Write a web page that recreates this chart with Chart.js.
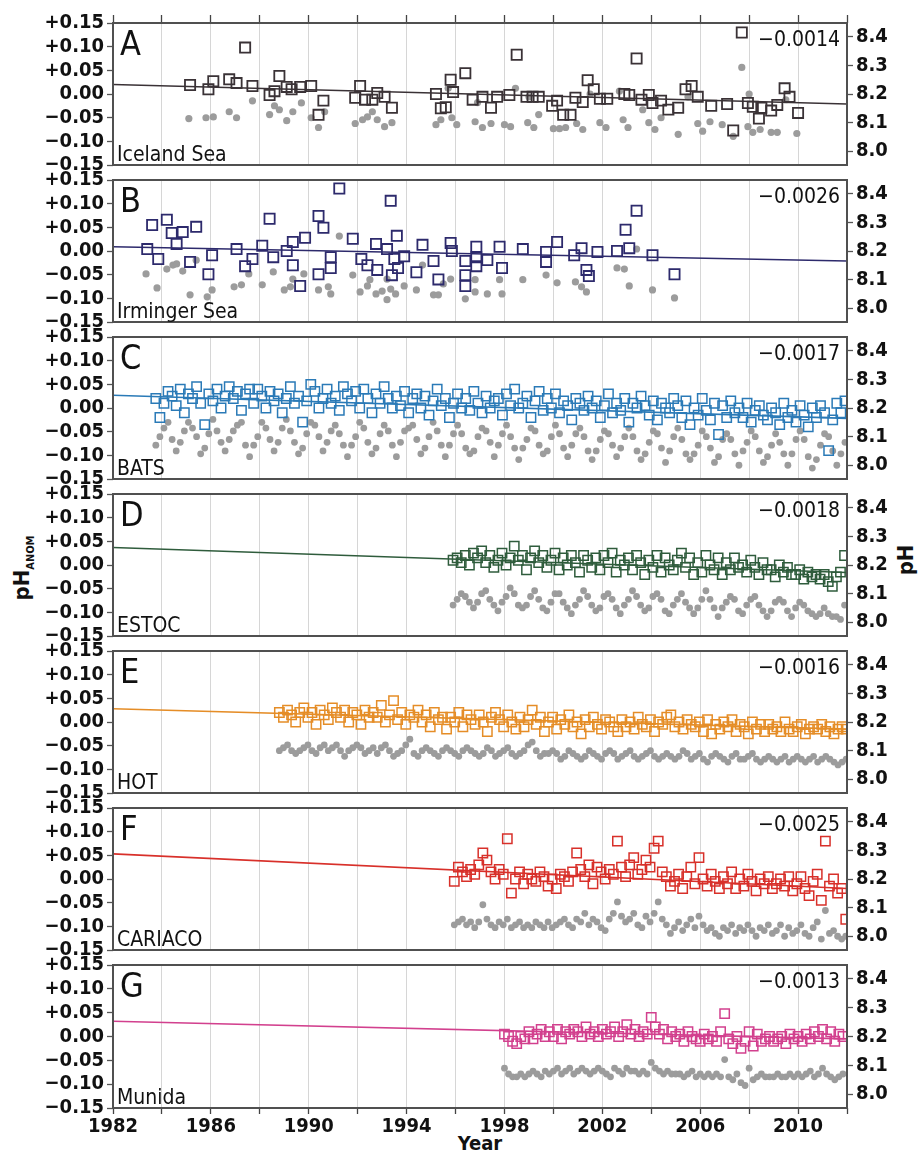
<!DOCTYPE html>
<html><head><meta charset="utf-8">
<script src="https://cdn.jsdelivr.net/npm/chart.js@4.4.1/dist/chart.umd.min.js"></script>
<style>
html,body{margin:0;padding:0;background:#fff;}
#wrap{position:relative;width:921px;height:1157px;overflow:hidden;background:#fff;font-family:'DejaVu Sans Condensed','DejaVu Sans',sans-serif;color:#111;}
.pan{position:absolute;left:0;}
.lbl{position:absolute;white-space:nowrap;}
</style></head><body>
<div id="wrap">
<div class="lbl" style="left:21px;top:568px;transform:translate(-50%,-50%) rotate(-90deg);font-size:22px;font-weight:bold;">pH<span style="font-size:11px;position:relative;top:5px;">ANOM</span></div>
<div class="lbl" style="left:905px;top:560px;transform:translate(-50%,-50%) rotate(-90deg);font-size:22px;font-weight:bold;">pH</div>
<div class="lbl" style="left:480px;top:1143px;transform:translate(-50%,-50%);font-size:20px;font-weight:bold;">Year</div>
</div>
<script>
// ---------- axes / ticks ----------
const X_MIN = 1982, X_MAX = 2012;
const GRID_YEARS = [1982,1984,1986,1988,1990,1992,1994,1996,1998,2000,2002,2004,2006,2008,2010,2012];
const YEAR_LABELS = ['1982','1986','1990','1994','1998','2002','2006','2010'];
const LEFT_TICKS = [-0.15,-0.10,-0.05,0,0.05,0.10,0.15];
const LEFT_TICK_LABELS = ['\u22120.15','\u22120.10','\u22120.05','0.00','+0.05','+0.10','+0.15'];
const RIGHT_TICKS = [8.0,8.1,8.2,8.3,8.4];
const RIGHT_TICK_LABELS = ['8.0','8.1','8.2','8.3','8.4'];
const RIGHT_MIN = 7.952, RIGHT_MAX = 8.448;

const LETTERS = ['A','B','C','D','E','F','G'];
const SITES = ['Iceland Sea','Irminger Sea','BATS','ESTOC','HOT','CARIACO','Munida'];
const SLOPES = ['\u22120.0014','\u22120.0026','\u22120.0017','\u22120.0018','\u22120.0016','\u22120.0025','\u22120.0013'];
const COLORS = ['#3a3236','#2d2a6c','#2a7ab7','#2f5c3c','#e58d27','#d8302a','#d2408e'];

const TREND_YEARS = [1982, 2012];
const trendIceland = [0.020, -0.021];
const trendIrminger = [0.009, -0.021];
const trendBATS = [0.027, -0.022];
const trendESTOC = [0.037, -0.016];
const trendHOT = [0.028, -0.015];
const trendCARIACO = [0.053, -0.020];
const trendMunida = [0.032, -0.005];

// ---------- Iceland Sea (year, anomaly) / (year, pH) ----------
const icelandAnom = [[1985.15,0.019],[1985.9,0.01],[1986.1,0.027],[1986.75,0.031],[1987.05,0.023],[1987.4,0.098],[1987.7,0.017],[1988.4,-0.002],[1988.6,0.006],[1988.8,0.038],[1989.1,0.015],[1989.3,0.01],[1989.65,0.015],[1990.1,0.017],[1990.4,-0.044],[1990.6,-0.014],[1991.9,-0.008],[1992.1,0.017],[1992.3,-0.012],[1992.6,-0.012],[1992.8,0.002],[1993.1,-0.006],[1993.4,-0.029],[1995.2,0.0],[1995.4,-0.03],[1995.6,-0.028],[1995.8,0.03],[1995.9,0.004],[1996.4,0.044],[1996.7,-0.012],[1997.1,-0.006],[1997.45,-0.029],[1997.7,-0.006],[1998.2,-0.002],[1998.5,0.083],[1998.9,-0.006],[1999.15,-0.006],[1999.4,-0.006],[1999.95,-0.025],[2000.15,-0.014],[2000.4,-0.044],[2000.7,-0.044],[2000.9,-0.008],[2001.2,-0.017],[2001.4,0.029],[2001.65,0.01],[2001.9,-0.01],[2002.2,-0.01],[2002.9,0.0],[2003.1,-0.002],[2003.4,0.075],[2003.6,-0.012],[2003.9,-0.002],[2004.05,-0.019],[2004.4,-0.014],[2004.7,-0.033],[2005.1,-0.029],[2005.4,0.01],[2005.65,0.017],[2005.9,-0.006],[2006.45,-0.025],[2007.1,-0.021],[2007.35,-0.077],[2007.7,0.13],[2007.95,-0.019],[2008.15,-0.027],[2008.4,-0.052],[2008.5,-0.029],[2008.9,-0.035],[2009.15,-0.023],[2009.45,0.012],[2009.65,-0.006],[2010.0,-0.04]];
const icelandPH = [[1985.1,8.114],[1985.8,8.117],[1986.1,8.12],[1986.75,8.138],[1987.05,8.117],[1987.7,8.176],[1988.4,8.128],[1988.6,8.159],[1988.8,8.145],[1989.1,8.107],[1989.35,8.138],[1989.7,8.169],[1990.1,8.117],[1990.4,8.083],[1990.65,8.138],[1991.9,8.097],[1992.2,8.11],[1992.4,8.12],[1992.6,8.138],[1992.8,8.11],[1993.1,8.086],[1993.4,8.1],[1995.2,8.093],[1995.4,8.11],[1995.7,8.22],[1995.85,8.117],[1996.05,8.093],[1996.8,8.103],[1996.9,8.17],[1997.1,8.083],[1997.45,8.097],[1998.0,8.093],[1998.25,8.086],[1998.45,8.22],[1998.95,8.1],[1999.0,8.19],[1999.2,8.083],[1999.4,8.128],[2000.0,8.079],[2000.25,8.079],[2000.5,8.083],[2000.95,8.097],[2001.2,8.076],[2001.5,8.2],[2001.9,8.1],[2002.15,8.083],[2002.7,8.21],[2002.85,8.11],[2003.05,8.083],[2003.65,8.145],[2003.9,8.1],[2004.15,8.076],[2004.4,8.117],[2005.1,8.059],[2005.5,8.19],[2005.9,8.097],[2006.1,8.07],[2006.4,8.103],[2006.9,8.093],[2007.35,8.052],[2007.7,8.293],[2007.95,8.086],[2008.0,8.2],[2008.15,8.066],[2008.45,8.076],[2008.9,8.066],[2009.15,8.066],[2009.5,8.18],[2009.95,8.062]];

// ---------- Irminger Sea ----------
const irmingerAnom = [[1983.4,0.004],[1983.6,0.055],[1983.85,-0.017],[1984.2,0.066],[1984.4,0.038],[1984.6,0.015],[1984.85,0.04],[1985.15,-0.023],[1985.4,0.051],[1985.9,-0.049],[1986.05,-0.009],[1987.05,0.004],[1987.4,-0.032],[1987.7,-0.017],[1988.1,0.011],[1988.4,0.068],[1988.55,-0.013],[1989.1,0.0],[1989.35,0.019],[1989.35,-0.03],[1989.65,-0.074],[1989.85,0.028],[1990.4,0.074],[1990.6,0.049],[1990.4,-0.049],[1990.9,-0.013],[1990.9,-0.036],[1991.25,0.132],[1991.8,0.026],[1992.15,-0.017],[1992.4,-0.03],[1992.75,0.015],[1992.8,-0.04],[1993.2,0.004],[1993.35,0.106],[1993.4,-0.051],[1993.5,-0.017],[1993.6,0.032],[1993.65,-0.036],[1993.9,-0.011],[1994.4,-0.045],[1994.65,0.013],[1995.1,-0.021],[1995.3,-0.06],[1995.8,0.017],[1995.85,0.0],[1996.4,-0.021],[1996.4,-0.051],[1996.4,-0.074],[1996.85,0.009],[1996.85,-0.013],[1996.85,-0.032],[1997.3,-0.019],[1997.8,0.009],[1997.9,-0.036],[1998.75,0.004],[1999.7,-0.002],[1999.7,-0.023],[2000.15,0.019],[2000.85,-0.009],[2001.15,0.006],[2001.35,-0.04],[2001.45,-0.053],[2001.8,-0.002],[2002.6,0.0],[2002.95,0.045],[2003.1,0.006],[2003.4,0.085],[2004.05,-0.009],[2004.95,-0.049]];
const irmingerPH = [[1983.35,8.12],[1983.8,8.071],[1984.2,8.137],[1984.45,8.151],[1984.6,8.155],[1984.85,8.13],[1985.15,8.047],[1985.4,8.168],[1985.85,8.04],[1986.05,8.064],[1986.95,8.075],[1987.25,8.082],[1987.55,8.12],[1988.1,8.082],[1988.55,8.127],[1989.0,8.064],[1989.25,8.075],[1989.35,8.102],[1989.8,8.12],[1990.4,8.064],[1990.8,8.075],[1990.9,8.05],[1991.25,8.252],[1991.8,8.116],[1992.1,8.057],[1992.4,8.078],[1992.5,8.1],[1992.75,8.05],[1993.0,8.06],[1993.2,8.03],[1993.2,8.102],[1993.35,8.067],[1993.55,8.05],[1993.9,8.078],[1994.4,8.064],[1994.65,8.151],[1995.1,8.047],[1995.3,8.047],[1995.5,8.085],[1995.8,8.102],[1996.4,8.033],[1996.8,8.1],[1996.8,8.057],[1997.3,8.05],[1997.8,8.1],[1997.9,8.05],[1998.75,8.1],[1999.7,8.116],[2000.15,8.089],[2000.9,8.092],[2001.15,8.075],[2001.35,8.057],[2002.6,8.141],[2002.9,8.137],[2003.1,8.078],[2003.4,8.207],[2004.05,8.064],[2004.95,8.036]];

// ---------- dense series: first sample year, sampling step (yr), values ----------
const batsStart = 1983.75, batsStep = 1/6;
const batsAnom = [
0.02,-0.02,0.01,0.035,0.025,0.005, 0.04,-0.01,0.03,0.02,0.045,0.01, -0.035,0.03,0.015,0.04,0.0,0.025,
0.045,0.02,0.035,-0.005,0.03,0.04, 0.01,0.04,0.025,0.0,0.035,0.015, 0.03,-0.01,0.02,0.045,0.01,0.025,
-0.03,0.015,0.05,0.035,0.0,0.02, 0.04,0.01,0.025,-0.005,0.045,0.03, 0.015,0.035,0.0,0.04,0.02,-0.01,
0.03,0.01,0.045,0.02,0.0,0.025, 0.005,0.035,-0.01,0.02,0.03,0.0, 0.025,-0.015,0.015,0.04,0.005,0.02,
-0.02,0.01,0.03,0.0,0.02,-0.005, 0.035,0.01,-0.01,0.025,0.0,0.015, 0.02,-0.015,0.03,0.005,0.04,0.0,
0.01,0.025,-0.02,0.015,0.035,-0.005, 0.02,0.0,0.03,-0.01,0.015,0.005, -0.025,0.02,0.01,-0.005,0.025,0.0,
0.015,-0.02,0.005,0.03,-0.01,0.01, -0.005,0.02,-0.03,0.01,0.0,0.025, 0.005,-0.015,0.015,-0.025,0.01,0.0,
-0.01,0.02,0.005,-0.02,0.015,-0.035, 0.0,-0.015,0.02,-0.005,-0.025,0.01, -0.056,0.005,-0.02,0.015,-0.01,0.0,
-0.02,0.01,-0.03,-0.005,0.005,-0.015, -0.025,0.0,-0.01,-0.035,0.01,-0.02, -0.005,-0.03,0.005,-0.015,-0.04,0.0,
-0.02,0.005,-0.01,-0.09,-0.025,0.01, -0.01,0.015];
const batsPH = [
8.07,8.10,8.13,8.15,8.09,8.05, 8.08,8.12,8.15,8.13,8.10,8.04, 8.06,8.11,8.16,8.12,8.08,8.05,
8.09,8.12,8.14,8.15,8.07,8.03, 8.07,8.10,8.15,8.13,8.09,8.05, 8.08,8.13,8.16,8.12,8.08,8.04,
8.06,8.11,8.15,8.14,8.10,8.05, 8.08,8.12,8.14,8.11,8.07,8.03, 8.07,8.10,8.15,8.13,8.08,8.04,
8.06,8.11,8.14,8.12,8.07,8.03, 8.08,8.12,8.13,8.14,8.09,8.04, 8.06,8.10,8.15,8.12,8.07,8.03,
8.07,8.11,8.14,8.11,8.06,8.04, 8.05,8.10,8.13,8.12,8.08,8.03, 8.07,8.11,8.14,8.10,8.06,8.02,
8.06,8.09,8.13,8.12,8.07,8.04, 8.05,8.10,8.14,8.11,8.06,8.03, 8.07,8.11,8.13,8.10,8.05,8.02,
8.05,8.09,8.12,8.11,8.07,8.03, 8.06,8.10,8.13,8.10,8.05,8.02, 8.04,8.08,8.12,8.11,8.06,8.01,
8.05,8.10,8.13,8.09,8.04,8.02, 8.04,8.07,8.12,8.10,8.06,8.01, 8.03,8.09,8.11,8.09,8.04,8.00,
8.05,8.08,8.12,8.10,8.05,8.01, 8.03,8.07,8.11,8.08,8.04,8.00, 8.04,8.09,8.12,8.09,8.03,7.99,
8.02,8.07,8.11,8.10,8.05,8.00, 8.04,8.08];

const estocStart = 1995.9, estocStep = 1/6;
const estocAnom = [
0.01,0.015,0.005,0.02,0.0,0.025, 0.015,0.03,0.005,0.02,-0.005,0.01, 0.025,0.0,0.015,0.04,0.01,0.02,
-0.01,0.015,0.03,0.005,0.02,-0.005, 0.01,0.025,-0.01,0.015,0.0,0.02, 0.005,-0.015,0.02,0.01,-0.005,0.015,
-0.01,0.02,0.005,0.025,-0.015,0.01, 0.0,0.015,-0.01,0.02,0.005,-0.02, 0.01,-0.005,0.02,-0.015,0.015,0.0,
-0.01,0.01,0.025,-0.005,0.015,-0.02, 0.005,-0.015,0.02,0.0,-0.01,0.015, -0.02,0.005,-0.01,0.015,-0.005,0.0,
-0.015,0.01,-0.005,-0.02,0.005,-0.01, -0.01,-0.025,0.0,-0.015,-0.005,-0.02, -0.02,-0.01,-0.03,-0.015,-0.025,-0.02,
-0.03,-0.02,-0.035,-0.045,-0.025,-0.015, 0.02];
const estocPH = [
8.06,8.08,8.10,8.09,8.07,8.05, 8.07,8.10,8.11,8.08,8.06,8.04, 8.07,8.09,8.12,8.10,8.06,8.05,
8.06,8.09,8.11,8.08,8.05,8.04, 8.07,8.10,8.10,8.07,8.05,8.03, 8.06,8.08,8.11,8.09,8.06,8.04,
8.05,8.09,8.10,8.08,8.05,8.03, 8.06,8.08,8.11,8.09,8.06,8.04, 8.05,8.09,8.10,8.08,8.04,8.03,
8.06,8.08,8.10,8.07,8.05,8.03, 8.05,8.08,8.11,8.08,8.05,8.02, 8.05,8.07,8.09,8.08,8.04,8.03,
8.06,8.08,8.09,8.06,8.04,8.02, 8.04,8.07,8.08,8.07,8.04,8.02, 8.05,8.07,8.06,8.04,8.03,8.02,
8.03,8.05,8.03,8.02,8.02,8.01, 8.06];

const hotStart = 1988.8, hotStep = 1/6;
const hotAnom = [
0.02,0.01,0.025,0.015,0.0,0.02, 0.03,0.01,0.02,-0.005,0.025,0.015, 0.005,0.03,0.02,0.01,0.025,0.0,
0.02,0.015,-0.005,0.025,0.01,0.02, 0.01,0.035,0.0,0.015,0.045,0.005, 0.02,-0.005,0.015,0.01,0.025,0.0,
0.015,-0.01,0.02,0.005,0.01,-0.015, 0.01,0.0,0.02,-0.01,0.015,0.005, -0.005,0.015,0.0,-0.02,0.01,0.02,
0.005,-0.01,0.015,0.0,-0.015,0.01, -0.01,0.005,0.025,-0.005,0.01,-0.02, 0.0,0.01,-0.015,0.005,-0.005,0.015,
-0.01,0.0,-0.025,0.005,-0.01,0.01, -0.005,-0.015,0.005,0.0,-0.01,-0.02, 0.005,-0.01,0.0,-0.015,0.01,-0.005,
-0.01,0.005,-0.02,0.0,-0.005,0.01, 0.015,-0.01,0.0,-0.015,0.005,-0.005, -0.01,0.0,-0.02,0.005,-0.025,-0.005,
-0.015,0.0,-0.01,0.005,-0.02,-0.005, -0.01,-0.025,0.0,-0.015,-0.005,-0.02, -0.005,-0.015,-0.01,-0.02,0.0,-0.015,
-0.02,-0.01,-0.005,-0.025,-0.015,-0.01, -0.015,-0.005,-0.02,-0.01,-0.025,-0.015, -0.01,-0.015];
const hotPH = [
8.10,8.11,8.12,8.10,8.09,8.10, 8.11,8.12,8.10,8.09,8.11,8.12, 8.10,8.11,8.12,8.10,8.08,8.10,
8.11,8.12,8.11,8.09,8.10,8.11, 8.09,8.11,8.12,8.10,8.08,8.09, 8.10,8.12,8.14,8.09,8.08,8.10,
8.11,8.10,8.09,8.08,8.10,8.11, 8.10,8.09,8.08,8.10,8.11,8.10, 8.09,8.08,8.09,8.11,8.10,8.08,
8.09,8.10,8.11,8.09,8.08,8.09, 8.10,8.12,8.13,8.10,8.08,8.09, 8.09,8.10,8.09,8.07,8.08,8.10,
8.09,8.08,8.07,8.08,8.10,8.09, 8.08,8.07,8.09,8.10,8.09,8.07, 8.08,8.09,8.10,8.08,8.07,8.08,
8.09,8.10,8.08,8.07,8.08,8.09, 8.08,8.07,8.08,8.10,8.09,8.07, 8.08,8.09,8.07,8.06,8.08,8.09,
8.08,8.07,8.06,8.08,8.09,8.07, 8.07,8.08,8.09,8.07,8.06,8.07, 8.08,8.07,8.06,8.07,8.08,8.06,
8.07,8.08,8.07,8.06,8.07,8.08, 8.06,8.07,8.08,8.07,8.06,8.05, 8.06,8.07];

const cariacoStart = 1995.95, cariacoStep = 1/6;
const cariacoAnom = [
-0.005,0.025,0.015,0.005,0.02,0.01, 0.03,0.055,0.04,0.015,0.0,0.02, 0.01,0.085,-0.03,0.0,0.015,-0.01,
0.01,0.0,-0.005,0.015,0.005,-0.015, 0.0,-0.02,0.01,0.005,-0.005,0.015, 0.055,0.02,0.005,0.03,-0.01,0.025,
0.015,0.0,0.02,0.01,0.08,0.025, 0.005,0.03,0.045,0.01,0.02,0.04, 0.025,0.065,0.08,0.015,0.005,-0.015,
-0.005,0.01,-0.02,0.005,0.025,-0.01, 0.045,0.0,-0.015,0.01,-0.005,-0.02, 0.005,-0.01,0.015,-0.02,0.0,-0.015,
0.01,-0.005,-0.025,0.0,-0.01,0.005, -0.02,-0.01,0.0,-0.015,0.005,-0.025, -0.01,0.005,-0.02,-0.035,-0.005,0.01,
-0.045,0.08,-0.015,0.0,-0.03,-0.02, -0.085];
const cariacoPH = [
8.04,8.05,8.06,8.04,8.05,8.03, 8.05,8.11,8.06,8.04,8.03,8.05, 8.04,8.06,8.03,8.04,8.05,8.03,
8.04,8.03,8.05,8.04,8.03,8.05, 8.03,8.04,8.05,8.06,8.04,8.03, 8.06,8.05,8.08,8.04,8.06,8.05,
8.03,8.02,8.06,8.08,8.12,8.07, 8.05,8.06,8.08,8.04,8.03,8.07, 8.05,8.08,8.12,8.06,8.04,8.01,
8.03,8.05,8.02,8.04,8.06,8.03, 8.07,8.04,8.02,8.03,8.01,8.00, 8.03,8.02,8.04,8.01,8.03,8.02,
8.04,8.02,8.00,8.03,8.02,8.04, 8.01,8.02,8.04,8.00,8.03,8.01, 8.02,8.04,8.01,8.00,8.03,8.05,
7.99,8.09,8.01,8.02,8.00,7.99, 8.00];

const munidaStart = 1998.0, munidaStep = 1/6;
const munidaAnom = [
0.005,0.0,-0.01,-0.015,0.0,-0.005, 0.01,-0.005,0.005,0.015,0.0,0.01, 0.0,0.015,-0.005,0.01,0.005,0.015,
0.01,0.0,0.02,0.005,0.01,0.0, 0.015,0.005,0.01,0.02,0.0,0.01, 0.025,0.005,0.015,0.0,0.01,0.005,
0.04,0.02,0.005,0.015,-0.005,0.01, 0.0,0.005,-0.01,0.01,0.0,-0.005, -0.01,0.005,-0.005,0.0,-0.01,0.01,
0.048,-0.005,-0.015,0.0,-0.025,-0.01, 0.01,-0.02,0.005,-0.01,-0.005,0.0, -0.01,-0.005,0.0,-0.015,0.005,-0.005,
0.0,-0.01,0.005,-0.005,0.01,0.0, 0.015,-0.005,0.01,-0.01,0.005,0.0];
const munidaPH = [
8.09,8.07,8.06,8.06,8.07,8.06, 8.07,8.08,8.07,8.06,8.08,8.07, 8.08,8.09,8.07,8.08,8.09,8.07,
8.08,8.09,8.08,8.07,8.08,8.09, 8.08,8.07,8.06,8.09,8.08,8.07, 8.09,8.08,8.08,8.07,8.08,8.07,
8.11,8.09,8.08,8.07,8.08,8.07, 8.07,8.07,8.06,8.07,8.08,8.06, 8.07,8.06,8.07,8.06,8.07,8.06,
8.12,8.06,8.05,8.07,8.04,8.03, 8.09,8.05,8.06,8.07,8.06,8.06, 8.06,8.07,8.06,8.06,8.07,8.06,
8.07,8.06,8.07,8.08,8.06,8.07, 8.09,8.07,8.06,8.05,8.06,8.07];

// ---------- build ----------
const pairs = arr => arr.map(p => ({x: p[0], y: p[1]}));
const series = (start, step, vals) => vals.map((v, i) => ({x: start + i * step, y: v}));
const trend = vals => TREND_YEARS.map((yr, i) => ({x: yr, y: vals[i]}));

const PANEL_DATA = [
  {sq: pairs(icelandAnom), dots: pairs(icelandPH), tr: trend(trendIceland), dense: false},
  {sq: pairs(irmingerAnom), dots: pairs(irmingerPH), tr: trend(trendIrminger), dense: false},
  {sq: series(batsStart, batsStep, batsAnom), dots: series(batsStart, batsStep, batsPH), tr: trend(trendBATS), dense: true},
  {sq: series(estocStart, estocStep, estocAnom), dots: series(estocStart, estocStep, estocPH), tr: trend(trendESTOC), dense: true},
  {sq: series(hotStart, hotStep, hotAnom), dots: series(hotStart, hotStep, hotPH), tr: trend(trendHOT), dense: true},
  {sq: series(cariacoStart, cariacoStep, cariacoAnom), dots: series(cariacoStart, cariacoStep, cariacoPH), tr: trend(trendCARIACO), dense: true},
  {sq: series(munidaStart, munidaStep, munidaAnom), dots: series(munidaStart, munidaStep, munidaPH), tr: trend(trendMunida), dense: true}
];

const FONT = "'DejaVu Sans Condensed','DejaVu Sans',sans-serif";
const GREY = '#9c9c9c';
const FRAME = '#505050';
const TOP0 = 22, PITCH = 157, PANEL_H = 144, LEFT_W = 113, RIGHT_W = 74, PAD = 14, BOTTOM_H = 40;

const decor = {
  id: 'decor',
  afterDatasetsDraw(chart, args, o) {
    const {ctx, chartArea: {left, top, right, bottom}} = chart;
    ctx.save();
    ctx.strokeStyle = FRAME; ctx.lineWidth = 2;
    ctx.strokeRect(left, top, right - left, bottom - top);
    ctx.fillStyle = '#111';
    ctx.textBaseline = 'alphabetic';
    ctx.textAlign = 'left';
    ctx.font = '34px ' + FONT;
    ctx.fillText(o.letter, left + 7, top + 32);
    ctx.font = '21px ' + FONT;
    ctx.fillText(o.site, left + 4, bottom - 4);
    ctx.textAlign = 'right';
    ctx.fillText(o.slope, right - 7, top + 23);
    ctx.restore();
  }
};

const wrap = document.getElementById('wrap');
PANEL_DATA.forEach((pd, i) => {
  const first = i === 0, last = i === 6;
  const h = PAD + PANEL_H + (last ? BOTTOM_H : PAD);
  const div = document.createElement('div');
  div.className = 'pan';
  div.style.top = (TOP0 + i * PITCH - PAD) + 'px';
  div.style.width = '921px'; div.style.height = h + 'px';
  const cv = document.createElement('canvas');
  cv.width = 921; cv.height = h;
  cv.style.width = '921px'; cv.style.height = h + 'px';
  div.appendChild(cv); wrap.appendChild(div);
  const col = COLORS[i];
  const scales = {
    x: {
      type: 'linear', position: 'bottom', min: X_MIN, max: X_MAX,
      afterBuildTicks: ax => { ax.ticks = GRID_YEARS.map(v => ({value: v})); },
      afterFit: ax => { ax.height = last ? BOTTOM_H : PAD; },
      border: {display: false},
      grid: {color: '#d6d6d6', lineWidth: 1, drawTicks: last, tickLength: 6, tickColor: '#444', tickWidth: 1.3},
      ticks: {
        display: last, autoSkip: false, maxRotation: 0, padding: 1, color: '#111',
        font: {family: FONT, size: 20, weight: 'bold'},
        callback: v => { const s = String(Math.round(v)); return YEAR_LABELS.includes(s) ? s : ''; }
      }
    },
    y: {
      type: 'linear', position: 'left', min: -0.15, max: 0.15,
      afterBuildTicks: ax => { ax.ticks = LEFT_TICKS.map(v => ({value: v})); },
      afterFit: ax => { ax.width = LEFT_W; },
      border: {display: false},
      grid: {drawOnChartArea: false, drawTicks: true, tickLength: 6, tickColor: '#555', tickWidth: 1.3},
      ticks: {
        autoSkip: false, padding: 3, color: '#111', font: {family: FONT, size: 20, weight: 'bold'},
        callback: v => LEFT_TICK_LABELS[LEFT_TICKS.findIndex(t => Math.abs(t - v) < 1e-6)]
      }
    },
    y2: {
      type: 'linear', position: 'right', min: RIGHT_MIN, max: RIGHT_MAX,
      afterBuildTicks: ax => { ax.ticks = RIGHT_TICKS.map(v => ({value: v})); },
      afterFit: ax => { ax.width = RIGHT_W; },
      border: {display: false},
      grid: {drawOnChartArea: false, drawTicks: true, tickLength: 6, tickColor: '#555', tickWidth: 1.3},
      ticks: {
        autoSkip: false, padding: 3, color: '#111', font: {family: FONT, size: 20, weight: 'bold'},
        callback: v => RIGHT_TICK_LABELS[RIGHT_TICKS.findIndex(t => Math.abs(t - v) < 1e-6)]
      }
    }
  };
  if (first) {
    scales.x2 = {
      type: 'linear', position: 'top', min: X_MIN, max: X_MAX,
      afterBuildTicks: ax => { ax.ticks = GRID_YEARS.map(v => ({value: v})); },
      afterFit: ax => { ax.height = PAD; },
      border: {display: false},
      grid: {drawOnChartArea: false, drawTicks: true, tickLength: 8, tickColor: '#444', tickWidth: 1.3},
      ticks: {display: false}
    };
  }
  new Chart(cv, {
    type: 'scatter',
    data: {
      datasets: [
        {label: 'pH', data: pd.dots, yAxisID: 'y2', xAxisID: 'x', pointStyle: 'circle',
         pointRadius: pd.dense ? 3.4 : 3.6, backgroundColor: GREY, borderWidth: 0, order: 3},
        {label: 'trend', type: 'line', data: pd.tr, yAxisID: 'y', xAxisID: 'x', borderColor: col,
         borderWidth: 1.6, pointRadius: 0, fill: false, order: 2},
        {label: 'pH anomaly', data: pd.sq, yAxisID: 'y', xAxisID: 'x', pointStyle: 'rect',
         pointRadius: pd.dense ? 6.6 : 7.2, borderColor: col, backgroundColor: 'rgba(255,255,255,0)',
         borderWidth: pd.dense ? 1.5 : 1.8, order: 1}
      ]
    },
    options: {
      responsive: false, animation: false, devicePixelRatio: 1,
      layout: {padding: {top: first ? 0 : PAD, bottom: 0, left: 0, right: 0}},
      scales,
      plugins: {legend: {display: false}, tooltip: {enabled: false},
                decor: {letter: LETTERS[i], site: SITES[i], slope: SLOPES[i]}},
      events: []
    },
    plugins: [decor]
  });
});
</script>
</body></html>
